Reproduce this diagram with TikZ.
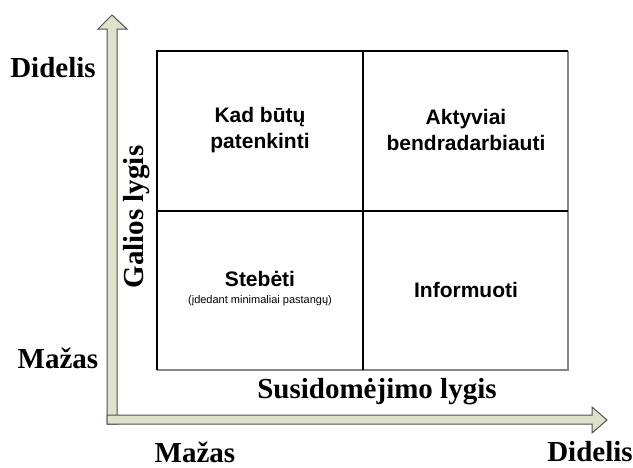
\documentclass[tikz,border=0pt]{standalone}
\usepackage{fontspec}
\setmainfont{Liberation Serif}
\setsansfont{Liberation Sans}
\usepackage{xcolor}
\usepackage{tikz}
\usetikzlibrary{positioning}

\definecolor{axisfill}{HTML}{DDE2CB}
\definecolor{axisline}{HTML}{505050}
\tikzset{
    axislabel/.style={font=\fontsize{29}{32}\selectfont\bfseries, inner sep=0pt},
    celltext/.style={font=\sffamily\bfseries\fontsize{21}{26}\selectfont, align=center, inner sep=0pt},
    cellnote/.style={font=\sffamily\fontsize{11}{13}\selectfont, inner sep=0pt},
    axisarrow/.style={fill=axisfill, draw=axisline, line width=1pt, line join=miter}
}

\begin{document}
\begin{tikzpicture}[x=1pt, y=-1pt]
    \useasboundingbox (0,0) rectangle (633,467);
    % Axes
    \draw[axisarrow] (107,424) -- (107,29) -- (98,29) -- (112,15) -- (127,29) -- (117,29) -- (117,424) -- cycle;
    \draw[axisarrow] (107,424) -- (107,415) -- (592,415) -- (592,407) -- (607,420) -- (592,433) -- (592,424) -- cycle;

    % Grid
    \draw[line width=1.3pt, axisline!70] (568,51) -- (568,370) -- (157,370);
    \draw[line width=1.2pt] (157,370) -- (157,51) -- (568,51);
    \draw[line width=1.2pt] (363,51) -- (363,370);
    \draw[line width=1.2pt] (157,211) -- (568,211);

    % Cells
    \node[celltext] (satisfied) at (260,130) {Kad būtų\\patenkinti};
    \node[celltext] (cooperate) at (466,130) {Aktyviai\\bendradarbiauti};
    \node[celltext] (monitor) at (260,279) {Stebėti};
    \node[cellnote, below=8pt of monitor] (monitornote) {(įdedant minimaliai pastangų)};
    \node[celltext] (inform) at (466,290) {Informuoti};

    % Axis labels
    \node[axislabel] (powerhigh) at (53,68) {Didelis};
    \node[axislabel] (powerlow) at (58,358) {Mažas};
    \node[axislabel, rotate=90] (power) at (137,217) {Galios lygis};
    \node[axislabel] (interest) at (377,392) {Susidomėjimo lygis};
    \node[axislabel] (interestlow) at (195,452) {Mažas};
    \node[axislabel] (interesthigh) at (590,452) {Didelis};
\end{tikzpicture}
\end{document}
